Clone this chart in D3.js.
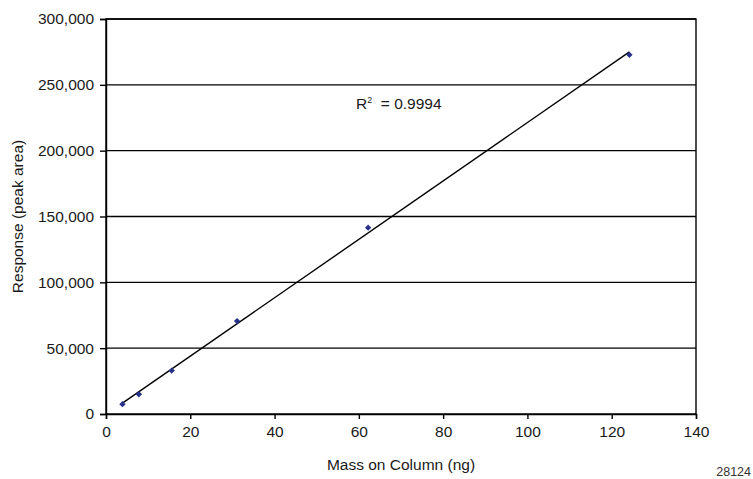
<!DOCTYPE html>
<html>
<head>
<meta charset="utf-8">
<script src="https://cdn.jsdelivr.net/npm/d3@7"></script>
<style>
  html, body { margin: 0; padding: 0; background: #fff; }
  svg { display: block; font-family: Arial, "Liberation Sans", sans-serif; }
</style>
</head>
<body>
<svg id="chart" width="753" height="479"></svg>
<script>
// Data
const massNg = [3.9, 7.8, 15.6, 31.1, 62.2, 124.2];
const responseArea = [7500, 15000, 33000, 70600, 141500, 272800];
const xTicks = [0, 20, 40, 60, 80, 100, 120, 140];
const yTicks = [0, 50000, 100000, 150000, 200000, 250000, 300000];
const rSquaredLabel = "0.9994";
const xTitle = "Mass on Column (ng)";
const yTitle = "Response (peak area)";
const footnote = "28124";

const svg = d3.select("#chart");
const margin = { left: 106, top: 19, right: 57, bottom: 65 };
const W = 753, H = 479;
const x = d3.scaleLinear().domain([0, 140]).range([margin.left, W - margin.right]);
const y = d3.scaleLinear().domain([0, 300000]).range([H - margin.bottom, margin.top]);

const fontSize = "15.5px";
const textColor = "#1a1a1a";

// gridlines
svg.append("g")
  .selectAll("line").data(yTicks.filter(d => d > 0)).join("line")
  .attr("x1", x(0)).attr("x2", x(140))
  .attr("y1", d => y(d)).attr("y2", d => y(d))
  .attr("stroke", "#000").attr("stroke-width", 1.4);

// plot frame
svg.append("rect")
  .attr("x", x(0)).attr("y", y(300000))
  .attr("width", x(140) - x(0)).attr("height", y(0) - y(300000))
  .attr("fill", "none").attr("stroke", "#000").attr("stroke-width", 1.4);

// axes
const fmt = d3.format(",");
const yAxis = svg.append("g").attr("transform", `translate(${x(0)},0)`)
  .call(d3.axisLeft(y).tickValues(yTicks).tickFormat(fmt).tickSizeOuter(0).tickSize(6).tickPadding(6));
const xAxis = svg.append("g").attr("transform", `translate(0,${y(0)})`)
  .call(d3.axisBottom(x).tickValues(xTicks).tickFormat(d3.format("d")).tickSizeOuter(0).tickSize(5).tickPadding(7));
[yAxis, xAxis].forEach(a => {
  a.select(".domain").attr("stroke", "#000").attr("stroke-width", 1.4);
  a.selectAll(".tick line").attr("stroke", "#000").attr("stroke-width", 1.4);
  a.selectAll(".tick text").attr("fill", textColor).style("font-size", fontSize)
    .style("font-family", "Arial, 'Liberation Sans', sans-serif");
});

// linear regression trendline
const n = massNg.length;
const mx = d3.mean(massNg), my = d3.mean(responseArea);
let sxy = 0, sxx = 0;
for (let i = 0; i < n; i++) {
  sxy += (massNg[i] - mx) * (responseArea[i] - my);
  sxx += (massNg[i] - mx) ** 2;
}
const slope = sxy / sxx, intercept = my - slope * mx;
const x0 = d3.min(massNg), x1 = d3.max(massNg);
svg.append("line")
  .attr("x1", x(x0)).attr("y1", y(intercept + slope * x0))
  .attr("x2", x(x1)).attr("y2", y(intercept + slope * x1))
  .attr("stroke", "#000").attr("stroke-width", 1.4);

// markers (square diamonds)
svg.append("g").selectAll("path").data(massNg).join("path")
  .attr("d", d3.symbol().type(d3.symbolSquare).size(20))
  .attr("transform", (d, i) => `translate(${x(d)},${y(responseArea[i])}) rotate(45)`)
  .attr("fill", "#27318a");

// R² label
const rt = svg.append("text").attr("x", 356).attr("y", 109)
  .attr("fill", textColor).style("font-size", fontSize);
rt.append("tspan").text("R");
rt.append("tspan").attr("dy", -6).style("font-size", "9px").text("2");
rt.append("tspan").attr("dy", 6).attr("xml:space", "preserve").text("  = " + rSquaredLabel);

// axis titles
svg.append("text").attr("x", (x(0) + x(140)) / 2).attr("y", 470)
  .attr("text-anchor", "middle").attr("fill", textColor).style("font-size", fontSize).text(xTitle);
svg.append("text")
  .attr("transform", `translate(23,${(y(0) + y(300000)) / 2}) rotate(-90)`)
  .attr("text-anchor", "middle").attr("fill", textColor).style("font-size", fontSize).text(yTitle);

// footnote
svg.append("text").attr("x", 751).attr("y", 476).attr("text-anchor", "end")
  .attr("fill", "#333").style("font-size", "12.5px").text(footnote);
</script>
</body>
</html>
